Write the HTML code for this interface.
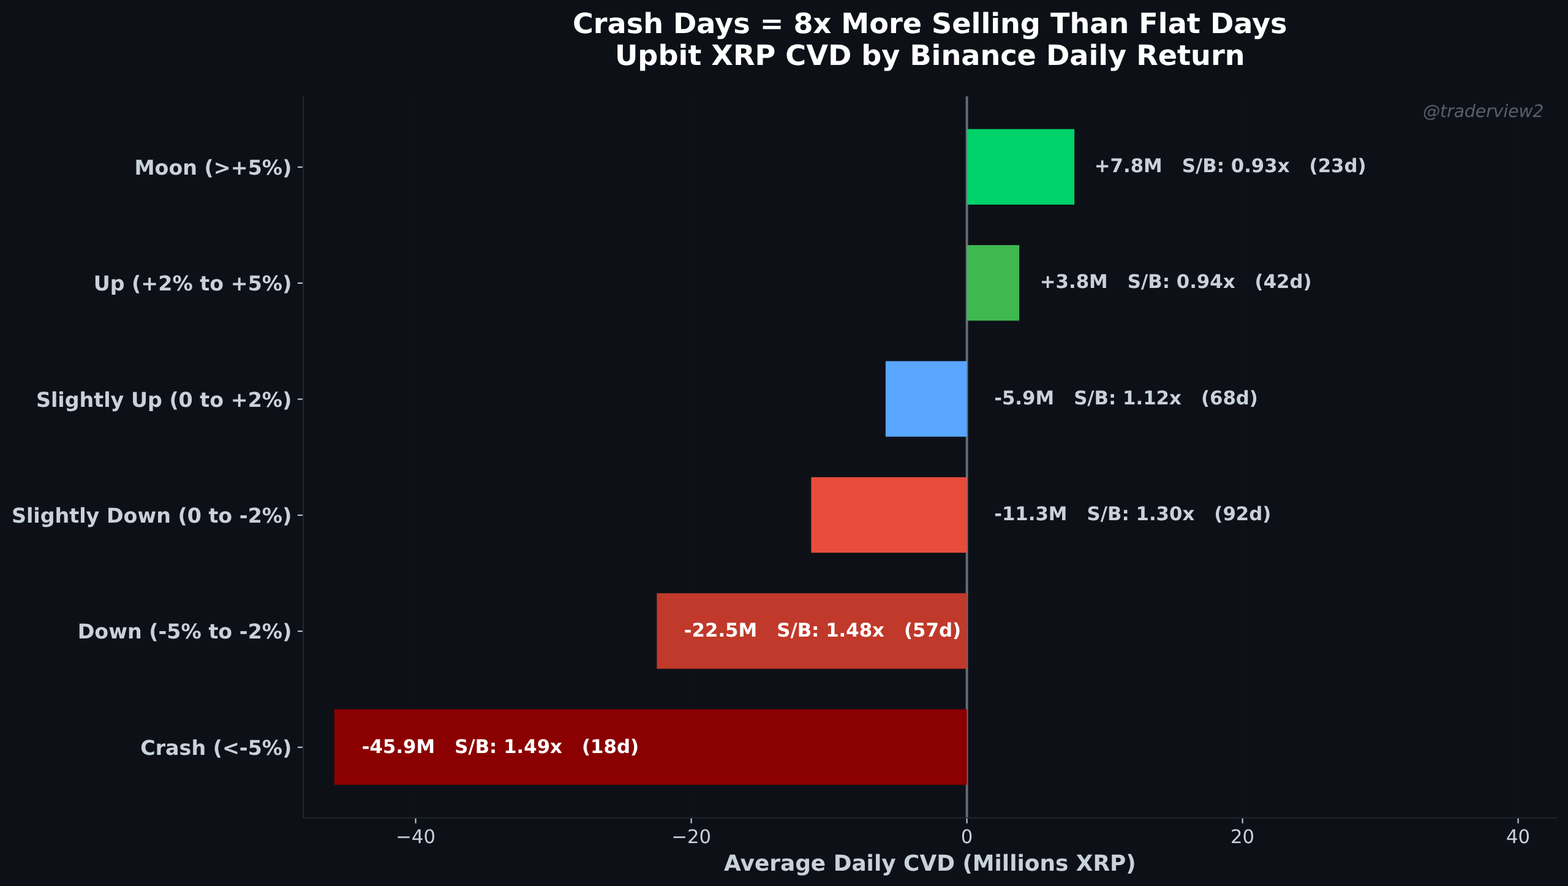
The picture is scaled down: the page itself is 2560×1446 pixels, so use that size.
<!DOCTYPE html>
<html lang="en"><head><meta charset="utf-8"><title>Crash Days = 8x More Selling Than Flat Days</title>
<style>
html,body{margin:0;padding:0;background:#0d1117;}
body{width:2560px;height:1446px;overflow:hidden;}
svg{display:block;}
text{font-family:"DejaVu Sans","Liberation Sans",sans-serif;white-space:pre;text-rendering:geometricPrecision;}
.b{font-weight:bold;}
</style></head><body>
<svg width="2560" height="1446" viewBox="0 0 2560 1446">
<rect x="0" y="0" width="2560" height="1446" fill="#0d1117"/>
<g stroke="#30363d" stroke-opacity="0.08" stroke-width="2" fill="none">
<line x1="678.60" y1="157.30" x2="678.60" y2="1334.75"/>
<line x1="1128.60" y1="157.30" x2="1128.60" y2="1334.75"/>
<line x1="1578.60" y1="157.30" x2="1578.60" y2="1334.75"/>
<line x1="2028.60" y1="157.30" x2="2028.60" y2="1334.75"/>
<line x1="2478.60" y1="157.30" x2="2478.60" y2="1334.75"/>
</g>
<line x1="1578.60" y1="157.30" x2="1578.60" y2="1334.75" stroke="#8b949e" stroke-opacity="0.7" stroke-width="3.84"/>
<rect x="545.85" y="1157.55" width="1032.75" height="123.30" fill="#8b0000"/>
<rect x="1072.35" y="968.17" width="506.25" height="123.30" fill="#c0392b"/>
<rect x="1324.35" y="778.79" width="254.25" height="123.30" fill="#e74c3c"/>
<rect x="1445.85" y="589.41" width="132.75" height="123.30" fill="#58a6ff"/>
<rect x="1578.60" y="400.03" width="85.50" height="123.30" fill="#3fb950"/>
<rect x="1578.60" y="210.65" width="175.50" height="123.30" fill="#00d26a"/>
<g stroke="#c9d1d9" stroke-width="2.05" fill="none">
<line x1="678.60" y1="1334.75" x2="678.60" y2="1343.71"/>
<line x1="1128.60" y1="1334.75" x2="1128.60" y2="1343.71"/>
<line x1="1578.60" y1="1334.75" x2="1578.60" y2="1343.71"/>
<line x1="2028.60" y1="1334.75" x2="2028.60" y2="1343.71"/>
<line x1="2478.60" y1="1334.75" x2="2478.60" y2="1343.71"/>
<line x1="495.00" y1="1219.60" x2="486.04" y2="1219.60"/>
<line x1="495.00" y1="1030.22" x2="486.04" y2="1030.22"/>
<line x1="495.00" y1="840.84" x2="486.04" y2="840.84"/>
<line x1="495.00" y1="651.46" x2="486.04" y2="651.46"/>
<line x1="495.00" y1="462.08" x2="486.04" y2="462.08"/>
<line x1="495.00" y1="272.70" x2="486.04" y2="272.70"/>
</g>
<g stroke="#21262d" stroke-width="2.05" fill="none" stroke-linecap="square">
<line x1="495.00" y1="157.30" x2="495.00" y2="1334.75"/>
<line x1="495.00" y1="1334.75" x2="2541.80" y2="1334.75"/>
</g>
<g fill="#c9d1d9" font-size="30.72" text-anchor="middle">
<text x="678.60" y="1375.90">−40</text>
<text x="1128.60" y="1375.90">−20</text>
<text x="1578.60" y="1375.90">0</text>
<text x="2028.60" y="1375.90">20</text>
<text x="2478.60" y="1375.90">40</text>
</g>
<g fill="#c9d1d9" font-size="33.30" text-anchor="end" class="b">
<text x="476.40" y="1231.80">Crash (&lt;-5%)</text>
<text x="476.40" y="1042.42">Down (-5% to -2%)</text>
<text x="476.40" y="853.04">Slightly Down (0 to -2%)</text>
<text x="476.40" y="663.66">Slightly Up (0 to +2%)</text>
<text x="476.40" y="474.28">Up (+2% to +5%)</text>
<text x="476.40" y="284.90">Moon (&gt;+5%)</text>
</g>
<g font-size="30.77" class="b" xml:space="preserve">
<text x="590.85" y="1228.60" fill="#ffffff">-45.9M   S/B: 1.49x   (18d)</text>
<text x="1116.85" y="1038.82" fill="#ffffff">-22.5M   S/B: 1.48x   (57d)</text>
<text x="1623.20" y="849.34" fill="#c9d1d9">-11.3M   S/B: 1.30x   (92d)</text>
<text x="1623.20" y="659.96" fill="#c9d1d9">-5.9M   S/B: 1.12x   (68d)</text>
<text x="1697.85" y="470.28" fill="#c9d1d9">+3.8M   S/B: 0.94x   (42d)</text>
<text x="1786.85" y="281.20" fill="#c9d1d9">+7.8M   S/B: 0.93x   (23d)</text>
</g>
<text x="1518.40" y="1420.80" fill="#c9d1d9" font-size="35.89" text-anchor="middle" class="b">Average Daily CVD (Millions XRP)</text>
<g fill="#ffffff" font-size="46.15" text-anchor="middle" class="b">
<text transform="translate(1518.20 54.40) scale(1 0.985)">Crash Days = 8x More Selling Than Flat Days</text>
<text transform="translate(1518.20 106.20) scale(1 0.985)">Upbit XRP CVD by Binance Daily Return</text>
</g>
<text x="2520.50" y="190.50" fill="#8b949e" fill-opacity="0.6" font-size="28.16" text-anchor="end" font-style="italic">@traderview2</text>
</svg>
</body></html>
